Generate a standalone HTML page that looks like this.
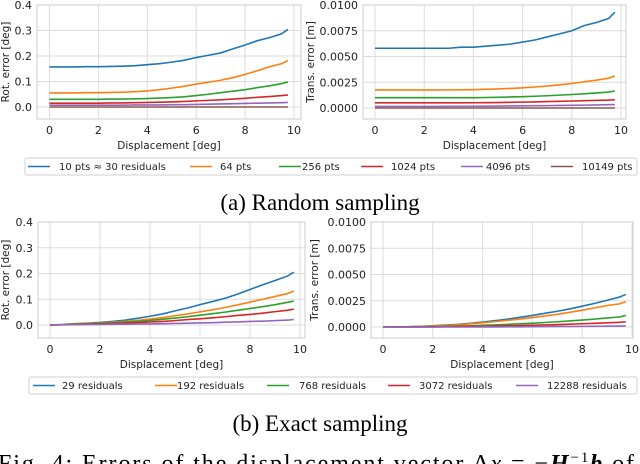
<!DOCTYPE html>
<html><head><meta charset="utf-8"><style>
html,body{margin:0;padding:0;background:#fff;overflow:hidden}
svg{display:block;font-family:"DejaVu Sans","Liberation Sans",sans-serif}
.cap{font-family:"Liberation Serif",serif}
</style></head><body>
<svg id="fig" width="640" height="464" viewBox="0 0 640 464">
<text class="cap" x="320" y="210" font-size="23" text-anchor="middle">(a) Random sampling</text>
<text class="cap" x="320" y="431" font-size="23" text-anchor="middle">(b) Exact sampling</text>
<text class="cap" x="-2" y="471" font-size="24" textLength="636" lengthAdjust="spacing">Fig. 4: Errors of the displacement vector Δ<tspan font-style="italic">x</tspan> = −<tspan font-weight="bold" font-style="italic">H</tspan><tspan font-size="15" dy="-9">−1</tspan><tspan dy="9" font-weight="bold" font-style="italic">b</tspan> of</text>
</svg>
<script>
const xs=[0,0.5,1,1.5,2,2.5,3,3.5,4,4.5,5,5.5,6,6.5,7,7.5,8,8.5,9,9.5,9.75];
const colors=['#1f77b4','#ff7f0e','#2ca02c','#d62728','#9467bd','#8c564b'];
const xTicks=[0,2,4,6,8,10];
const rotTicks=['0.0','0.1','0.2','0.3','0.4'];
const transTicks=['0.0000','0.0025','0.0050','0.0075','0.0100'];
const labelsA=['10 pts ≈ 30 residuals','64 pts','256 pts','1024 pts','4096 pts','10149 pts'];
const labelsB=['29 residuals','192 residuals','768 residuals','3072 residuals','12288 residuals'];
const rotA=[
[0.157,0.157,0.157,0.158,0.158,0.159,0.160,0.162,0.166,0.170,0.176,0.183,0.194,0.203,0.212,0.228,0.243,0.260,0.272,0.287,0.305],
[0.055,0.055,0.055,0.056,0.056,0.057,0.058,0.060,0.063,0.068,0.074,0.081,0.090,0.097,0.105,0.115,0.128,0.142,0.158,0.170,0.182],
[0.030,0.030,0.030,0.030,0.030,0.031,0.031,0.032,0.033,0.035,0.037,0.040,0.045,0.050,0.056,0.062,0.068,0.076,0.083,0.092,0.098],
[0.015,0.015,0.015,0.015,0.015,0.016,0.016,0.017,0.018,0.019,0.020,0.022,0.024,0.026,0.028,0.031,0.034,0.038,0.041,0.045,0.047],
[0.007,0.007,0.007,0.007,0.007,0.007,0.007,0.008,0.008,0.008,0.009,0.009,0.010,0.011,0.012,0.013,0.014,0.015,0.016,0.017,0.018],
[0,0,0,0,0,0,0,0,0,0,0,0,0,0,0,0,0,0,0,0,0]];
const transA=[
[0.0058,0.0058,0.0058,0.0058,0.0058,0.0058,0.0058,0.0059,0.0059,0.0060,0.0061,0.0062,0.0064,0.0066,0.0069,0.0072,0.0075,0.0080,0.0083,0.0087,0.0093],
[0.00175,0.00175,0.00175,0.00175,0.00175,0.00175,0.00176,0.00177,0.00178,0.00181,0.00185,0.0019,0.00196,0.00204,0.00213,0.00225,0.00238,0.00255,0.0027,0.0029,0.0031],
[0.0010,0.0010,0.0010,0.0010,0.0010,0.0010,0.0010,0.0010,0.0010,0.00102,0.00104,0.00107,0.0011,0.00114,0.00119,0.00125,0.00131,0.00138,0.00146,0.00155,0.00165],
[0.0005,0.0005,0.0005,0.0005,0.0005,0.0005,0.0005,0.0005,0.00051,0.00052,0.00053,0.00055,0.00057,0.00059,0.00062,0.00065,0.00068,0.00071,0.00074,0.00077,0.0008],
[0.00015,0.00015,0.00015,0.00015,0.00015,0.00015,0.00016,0.00016,0.00017,0.00018,0.00019,0.0002,0.00021,0.00022,0.00023,0.00025,0.00026,0.00028,0.0003,0.00032,0.00033],
[0,0,0,0,0,0,0,0,0,0,0,0,0,0,0,0,0,0,0,0,0]];
const rotB=[
[0,0.002,0.005,0.007,0.010,0.014,0.019,0.026,0.034,0.043,0.055,0.066,0.079,0.091,0.104,0.12,0.138,0.156,0.173,0.19,0.205],
[-0.002,0.001,0.004,0.006,0.008,0.011,0.014,0.018,0.023,0.029,0.036,0.043,0.051,0.059,0.068,0.078,0.089,0.1,0.111,0.122,0.132],
[0,0.001,0.003,0.005,0.007,0.009,0.011,0.014,0.018,0.022,0.027,0.032,0.038,0.044,0.05,0.057,0.064,0.071,0.079,0.088,0.093],
[0,0.001,0.002,0.003,0.004,0.006,0.007,0.009,0.012,0.014,0.017,0.021,0.024,0.028,0.032,0.037,0.041,0.046,0.052,0.057,0.062],
[0,0.0005,0.001,0.0015,0.002,0.0025,0.003,0.004,0.004,0.005,0.006,0.007,0.008,0.009,0.011,0.012,0.014,0.015,0.017,0.019,0.021]];
const transB=[
[0,0.00001,0.00003,0.00007,0.00012,0.00018,0.00025,0.00035,0.00047,0.0006,0.00075,0.00092,0.0011,0.0013,0.0015,0.00172,0.00198,0.00225,0.00255,0.00285,0.0031],
[-0.00003,0,0.00002,0.00005,0.0001,0.00015,0.00021,0.0003,0.0004,0.00051,0.00063,0.00076,0.0009,0.00105,0.00121,0.0014,0.0016,0.00182,0.00205,0.0022,0.0024],
[0,0,0.00001,0.00002,0.00004,0.00006,0.00009,0.00012,0.00016,0.0002,0.00025,0.0003,0.00036,0.00043,0.0005,0.00058,0.00066,0.00075,0.00086,0.00095,0.0011],
[0,0,0,0.00001,0.00002,0.00003,0.00004,0.00005,0.00007,0.00009,0.00011,0.00014,0.00017,0.0002,0.00023,0.00027,0.00031,0.00035,0.0004,0.00045,0.0005],
[-0.00002,-0.00002,-0.00002,-0.00001,-0.00001,0,0,0,0.00001,0.00001,0.00002,0.00002,0.00003,0.00004,0.00005,0.00005,0.00006,0.00007,0.00008,0.00009,0.0001]];

const NS='http://www.w3.org/2000/svg';
const svg=document.getElementById('fig');
function mk(tag,attrs,parent){const e=document.createElementNS(NS,tag);for(const k in attrs)e.setAttribute(k,attrs[k]);(parent||svg).appendChild(e);return e;}

function panel(p){
  const g=mk('g',{});
  
  
  const sx=v=>p.x0+(v-0)*(p.x10-p.x0)/10;
  const sy=v=>p.yZero+(v)*(p.yTop-p.yZero)/p.yMax;
  xTicks.forEach(t=>{const l=mk('line',{x1:sx(t),x2:sx(t),y1:p.fy0,y2:p.fy1,stroke:'#dcdcdc','stroke-width':1},g);
    
    const tx=mk('text',{x:sx(t),y:p.fy1+15,'font-size':11,'text-anchor':'middle',fill:'#222'},g);tx.textContent=t;
    });
  p.ticks.forEach((lab,i)=>{const v=p.yMax*i/(p.ticks.length-1);const y=sy(v);
    const l=mk('line',{x1:p.fx0,x2:p.fx1,y1:y,y2:y,stroke:'#dcdcdc','stroke-width':1},g);
    
    const tx=mk('text',{x:p.fx0-5,y:y+4,'font-size':11,'text-anchor':'end',fill:'#222'},g);tx.textContent=lab;
    });
  const fr=mk('rect',{x:p.fx0,y:p.fy0,width:p.fx1-p.fx0,height:p.fy1-p.fy0,fill:'none',stroke:'#cccccc','stroke-width':1},g);
  
  p.series.forEach((s,i)=>{const d=s.map((v,j)=>(j?'L':'M')+sx(xs[j]).toFixed(2)+','+sy(v).toFixed(2)).join('');
    const pa=mk('path',{d:d,fill:'none',stroke:colors[i],'stroke-width':1.6},g);
    });
  const xt=mk('text',{x:(p.fx0+p.fx1)/2,y:p.fy1+30,'font-size':10.5,'text-anchor':'middle',fill:'#222'},g);xt.textContent='Displacement [deg]';
  
  const yc=(p.fy0+p.fy1)/2;
  const yt=mk('text',{x:p.ylx,y:yc,'font-size':10.5,'text-anchor':'middle',fill:'#222',transform:`rotate(-90 ${p.ylx} ${yc})`},g);yt.textContent=p.ylab;
  
}
panel({name:'rot-random-panel',fx0:37,fx1:301,fy0:5,fy1:119,x0:49.5,x10:294,yZero:107,yTop:5,yMax:0.4,ticks:rotTicks,series:rotA,ylab:'Rot. error [deg]',ylx:9});
panel({name:'trans-random-panel',fx0:363,fx1:626,fy0:5,fy1:119,x0:375,x10:621,yZero:108,yTop:5,yMax:0.01,ticks:transTicks,series:transA,ylab:'Trans. error [m]',ylx:314});
panel({name:'rot-exact-panel',fx0:38,fx1:305,fy0:222,fy1:338,x0:50,x10:300,yZero:325,yTop:222,yMax:0.4,ticks:rotTicks,series:rotB,ylab:'Rot. error [deg]',ylx:9});
panel({name:'trans-exact-panel',fx0:371,fx1:633,fy0:222,fy1:338,x0:383,x10:632,yZero:327,yTop:222,yMax:0.01,ticks:transTicks,series:transB,ylab:'Trans. error [m]',ylx:318});

function legend(name,bx,by,bw,bh,labels,hx,txs){
  const g=mk('g',{});
  
  
  mk('rect',{x:bx,y:by,width:bw,height:bh,rx:2,fill:'#fff',stroke:'#d0d0d0','stroke-width':1},g);
  const cy=by+bh/2;
  labels.forEach((lab,i)=>{
    const l=mk('line',{x1:hx[i],x2:hx[i]+22,y1:cy,y2:cy,stroke:colors[i],'stroke-width':1.6},g);
    
    const t=mk('text',{x:txs[i],y:cy+3.5,'font-size':10,fill:'#222'},g);t.textContent=lab;
    
  });
}
legend('legend-random',25,158,612,17,labelsA,[28,190,279,361,461,551],[59,220,302,391,486,582]);
legend('legend-exact',29,377,608,17,labelsB,[33,155,267,388,516],[62,177,299,419,547]);
</script>
</body></html>
